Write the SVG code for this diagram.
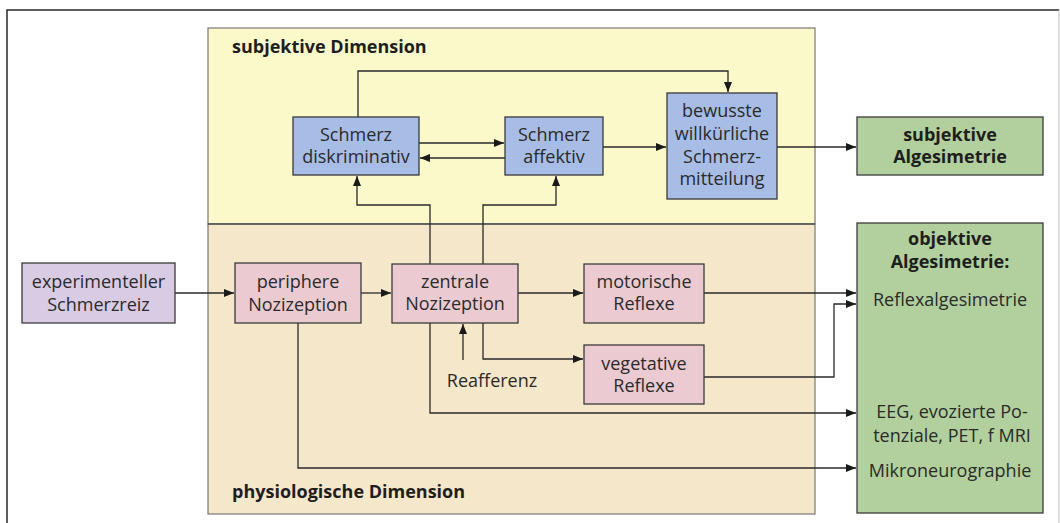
<svg xmlns="http://www.w3.org/2000/svg" width="1060" height="523" viewBox="0 0 1060 523">
<defs>
<marker id="ah" viewBox="0 0 10 8" refX="10" refY="4" markerWidth="10" markerHeight="8" markerUnits="userSpaceOnUse" orient="auto">
<path d="M0,0 L10,4 L0,8 Z" fill="#1a1a1a"/>
</marker>
<style>
.t{font-family:"Open Sans","Noto Sans",sans-serif;font-size:18px;fill:#2a2a2a;text-anchor:middle}
.b{font-family:"Open Sans","Noto Sans",sans-serif;font-size:18px;font-weight:bold;fill:#1e1e1e}
.bc{text-anchor:middle}
.n{stroke:#3a3a3a;stroke-width:1.3}
.blue{fill:#a7bde5}
.pink{fill:#ebcbd1}
.purp{fill:#d9cbe3}
.green{fill:#b1d09d}
.ca{fill:none;stroke:#2a2a2a;stroke-width:1.3;marker-end:url(#ah)}
</style>
</defs>
<rect width="1060" height="523" fill="#ffffff"/>
<g id="frame">
<path d="M7,523 V10 H1059" fill="none" stroke="#2a2a2a" stroke-width="1.5"/>
<path d="M1059,10 V523" fill="none" stroke="#bbbbbb" stroke-width="1"/>
</g>
<g id="subjective-dimension">
<rect x="208" y="28" width="607" height="196" fill="#fbf9ca" stroke="#777" stroke-width="1.2"/>
<text class="b" x="232" y="53">subjektive Dimension</text>
</g>
<g id="physiological-dimension">
<rect x="208" y="224" width="607" height="290" fill="#f5e7ca" stroke="#777" stroke-width="1.2"/>
<line x1="208" y1="224" x2="815" y2="224" stroke="#555" stroke-width="1.5"/>
<text class="b" x="232" y="498">physiologische Dimension</text>
</g>
<g id="connectors">
<path class="ca" d="M175,293 H234"/>
<path class="ca" d="M361,293 H391"/>
<path class="ca" d="M518,293 H583"/>
<path class="ca" d="M483,323 V359 H583"/>
<path class="ca" d="M463,360 V324"/>
<path class="ca" d="M430,323 V413 H856"/>
<path class="ca" d="M298,323 V468 H856"/>
<path class="ca" d="M704,293 H856"/>
<path class="ca" d="M704,377 H834 V304 H856"/>
<path class="ca" d="M430,264 V205 H357 V176"/>
<path class="ca" d="M483,264 V205 H556 V176"/>
<path class="ca" d="M419,143 H504"/>
<path class="ca" d="M505,158 H420"/>
<path class="ca" d="M603,147 H666"/>
<path class="ca" d="M358,117 V71 H728 V92"/>
<path class="ca" d="M777,147 H856"/>
</g>
<g id="schmerz-diskriminativ">
<rect class="n blue" x="293" y="117" width="126" height="58"/>
<text class="t" x="356" y="141">Schmerz</text>
<text class="t" x="356" y="163">diskriminativ</text>
</g>
<g id="schmerz-affektiv">
<rect class="n blue" x="505" y="117" width="98" height="58"/>
<text class="t" x="554" y="141">Schmerz</text>
<text class="t" x="554" y="163">affektiv</text>
</g>
<g id="bewusste-mitteilung">
<rect class="n blue" x="667" y="93" width="110" height="106"/>
<text class="t" x="722" y="117">bewusste</text>
<text class="t" x="722" y="140">willkürliche</text>
<text class="t" x="722" y="163">Schmerz-</text>
<text class="t" x="722" y="185">mitteilung</text>
</g>
<g id="subjektive-algesimetrie">
<rect class="n green" x="857" y="117" width="186" height="58"/>
<text class="b bc" x="950" y="141">subjektive</text>
<text class="b bc" x="950" y="163">Algesimetrie</text>
</g>
<g id="experimenteller-schmerzreiz">
<rect class="n purp" x="22" y="263" width="153" height="60"/>
<text class="t" x="98.5" y="288">experimenteller</text>
<text class="t" x="98.5" y="311">Schmerzreiz</text>
</g>
<g id="periphere-nozizeption">
<rect class="n pink" x="235" y="263" width="126" height="60"/>
<text class="t" x="298" y="288">periphere</text>
<text class="t" x="298" y="311">Nozizeption</text>
</g>
<g id="zentrale-nozizeption">
<rect class="n pink" x="392" y="264" width="126" height="59"/>
<text class="t" x="455" y="288">zentrale</text>
<text class="t" x="455" y="310">Nozizeption</text>
</g>
<g id="motorische-reflexe">
<rect class="n pink" x="584" y="264" width="120" height="59"/>
<text class="t" x="644" y="288">motorische</text>
<text class="t" x="644" y="310">Reflexe</text>
</g>
<g id="vegetative-reflexe">
<rect class="n pink" x="584" y="345" width="120" height="59"/>
<text class="t" x="644" y="370">vegetative</text>
<text class="t" x="644" y="392">Reflexe</text>
</g>
<g id="reafferenz">
<text class="t" x="492" y="387">Reafferenz</text>
</g>
<g id="objektive-algesimetrie">
<rect class="n green" x="857" y="223" width="186" height="290"/>
<text class="b bc" x="950" y="245">objektive</text>
<text class="b bc" x="950" y="268">Algesimetrie:</text>
<text class="t" x="950" y="306">Reflexalgesimetrie</text>
<text class="t" x="952" y="418">EEG, evozierte Po-</text>
<text class="t" x="952" y="442">tenziale, PET, f MRI</text>
<text class="t" x="950" y="477">Mikroneurographie</text>
</g>
</svg>
